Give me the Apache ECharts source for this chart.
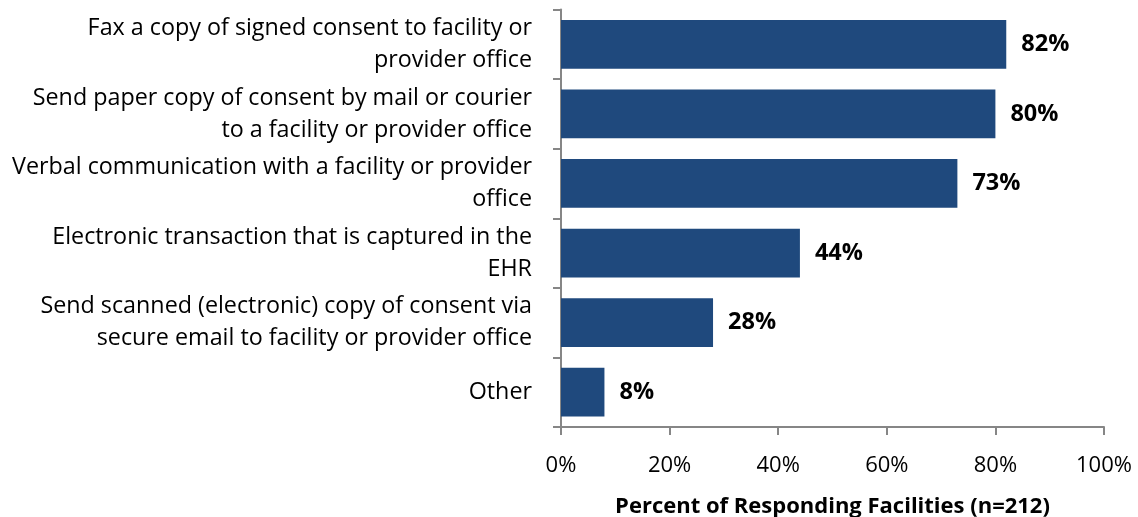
<!DOCTYPE html>
<html>
<head>
<meta charset="utf-8">
<script src="https://cdn.jsdelivr.net/npm/echarts@6/dist/echarts.min.js"></script>
<style>
  html, body { margin: 0; padding: 0; background: #ffffff; }
  #chart { width: 1138px; height: 517px; }
</style>
</head>
<body>
<div id="chart"></div>
<script>
// Methods used to share consent with facilities / provider offices
const categories = [
  'Fax a copy of signed consent to facility or\nprovider office',
  'Send paper copy of consent by mail or courier\nto a facility or provider office',
  'Verbal communication with a facility or provider\noffice',
  'Electronic transaction that is captured in the\nEHR',
  'Send scanned (electronic) copy of consent via\nsecure email to facility or provider office',
  'Other'
];
const percentValues = [82, 80, 73, 44, 28, 8];
const xTickValues = [0, 20, 40, 60, 80, 100];
const xAxisTitle = 'Percent of Responding Facilities (n=212)';

const FONT = 'Open Sans';
const chart = echarts.init(document.getElementById('chart'), null, { renderer: 'canvas' });

chart.setOption({
  animation: false,
  backgroundColor: '#ffffff',
  textStyle: { fontFamily: FONT },
  grid: { left: 561, right: 34, top: 9.5, bottom: 90, containLabel: false, outerBoundsMode: 'none' },
  xAxis: {
    type: 'value',
    min: xTickValues[0],
    max: xTickValues[xTickValues.length - 1],
    interval: 20,
    name: xAxisTitle,
    nameLocation: 'middle',
    nameGap: 69,
    nameTextStyle: { fontFamily: FONT, fontSize: 22, fontWeight: 'bold', color: '#000000' },
    axisLine: { show: true, lineStyle: { color: '#868686', width: 2 } },
    axisTick: { show: true, length: 8, lineStyle: { color: '#868686', width: 2 } },
    axisLabel: { fontFamily: FONT, fontSize: 22, color: '#000000', margin: 28, formatter: v => v + '%' },
    splitLine: { show: false }
  },
  yAxis: {
    type: 'category',
    inverse: true,
    data: categories,
    axisLine: { show: true, lineStyle: { color: '#868686', width: 2 } },
    axisTick: { show: true, length: 8, alignWithLabel: false, lineStyle: { color: '#868686', width: 2 } },
    axisLabel: { fontFamily: FONT, fontSize: 23.3, color: '#000000', margin: 29, lineHeight: 32, align: 'right', padding: [4, 0, 0, 0] }
  },
  series: [{
    type: 'bar',
    data: percentValues,
    barWidth: '70%',
    itemStyle: { color: '#1F497D' },
    label: {
      show: true,
      position: 'right',
      distance: 15,
      formatter: p => p.value + '%',
      fontFamily: FONT,
      fontSize: 23.5,
      fontWeight: 'bold',
      color: '#000000'
    }
  }]
});
</script>
</body>
</html>
